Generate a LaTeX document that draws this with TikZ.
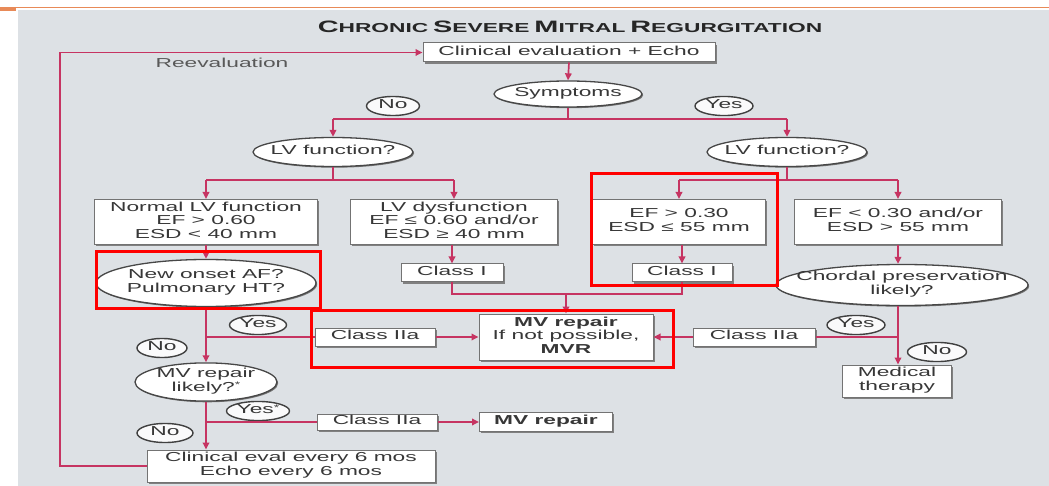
\documentclass[tikz,border=0pt]{standalone}
\usepackage{fontspec}
\setmainfont{Liberation Sans}[FakeStretch=1.75]
\usetikzlibrary{shapes.geometric,arrows.meta,shadows}
\definecolor{bg}{RGB}{221,225,229}
\definecolor{lc}{RGB}{198,52,98}
\definecolor{org}{RGB}{232,138,88}
\definecolor{tx}{RGB}{55,55,55}
\newcommand\tf{\fontsize{13}{13.5}\selectfont}
\newcommand\zt[1]{\makebox[0pt]{\begin{tabular}{@{}c@{}}#1\end{tabular}}}
\newcommand\tA[1]{{\fontsize{16.5}{16}\selectfont #1}}
\newcommand\tB[1]{{\fontsize{13}{16}\selectfont #1}}
\newcommand\supast{\raisebox{3.5pt}{\fontsize{8}{8}\selectfont *}}
\tikzset{
  ln/.style={draw=lc, line width=1.7pt},
  arr/.style={ln, -{Triangle[length=7pt,width=6.5pt]}},
  bx/.style={rectangle, draw=black!55, fill=white, line width=1pt,
    drop shadow={shadow xshift=1.6pt, shadow yshift=-1.6pt, fill=black!50, opacity=1},
    inner sep=0pt, font=\tf, text=tx},
  el/.style={ellipse, draw=black!72, fill=white, line width=1.3pt,
    drop shadow={shadow xshift=1.2pt, shadow yshift=-1.2pt, fill=black!55, opacity=1},
    inner sep=0pt, font=\tf, text=tx},
  lab/.style={ellipse, draw=black!75, fill=white!85!bg, line width=1.4pt, inner sep=0pt, font=\tf, text=tx},
  hl/.style={draw=red, line width=3pt}
}
\begin{document}
\begin{tikzpicture}[x=1pt,y=-1pt]
\useasboundingbox (0,0) rectangle (1049,486);
\fill[white] (0,0) rectangle (1049,486);
\fill[bg] (18,10) rectangle (1049,486);
\draw[org, line width=1.3pt] (0,7.5) -- (1049,7.5);
\fill[org] (0,7) rectangle (16,11.5);

% title
\node[text=black!85] (title) at (570,27) {\bfseries\tA{C}\tB{HRONIC} \tA{S}\tB{EVERE} \tA{M}\tB{ITRAL} \tA{R}\tB{EGURGITATION}};

% nodes
\node[bx, minimum width=292, minimum height=19] (eval) at (569,52.5) {\zt{Clinical evaluation + Echo}};
\node[font=\tf, text=black!65] (reev) at (222,63) {Reevaluation};
\node[el, minimum width=148, minimum height=26] (symp) at (568,94) {\zt{Symptoms}};
\node[lab, minimum width=53, minimum height=16] (no1) at (393,106) {\zt{No}};
\node[lab, minimum width=58, minimum height=16] (yes1) at (724,106) {\zt{Yes}};
\node[el, minimum width=160, minimum height=29] (lvL) at (333,152) {\zt{LV function?}};
\node[el, minimum width=160, minimum height=29] (lvR) at (787,152) {\zt{LV function?}};

\node[bx, minimum width=223, minimum height=45] (norm) at (206,222) {\zt{Normal LV function\\EF > 0.60\\ESD < 40 mm}};
\node[bx, minimum width=207, minimum height=45] (dysf) at (454,222) {\zt{LV dysfunction\\EF ≤ 0.60 and/or\\ESD ≥ 40 mm}};
\node[bx, minimum width=173, minimum height=45] (ef30) at (679,222) {\zt{EF > 0.30\\ESD ≤ 55 mm}};
\node[bx, minimum width=207, minimum height=45] (efl) at (898,222) {\zt{EF < 0.30 and/or\\ESD > 55 mm}};

\node[el, minimum width=220, minimum height=47] (naf) at (206,283) {\zt{New onset AF?\\Pulmonary HT?}};
\node[bx, minimum width=102, minimum height=18] (c1a) at (452,273) {\zt{Class I}};
\node[bx, minimum width=100, minimum height=18] (c1b) at (682,273) {\zt{Class I}};
\node[el, minimum width=252, minimum height=41] (chord) at (902,285) {\zt{Chordal preservation\\likely?}};

\node[bx, minimum width=174, minimum height=46] (mvr) at (566,337) {\zt{\textbf{MV repair}\\If not possible,\\\textbf{MVR}}};
\node[bx, minimum width=120, minimum height=18] (c2a) at (375,337) {\zt{Class IIa}};
\node[bx, minimum width=122, minimum height=18] (c2b) at (754,337) {\zt{Class IIa}};
\node[bx, minimum width=109, minimum height=32] (med) at (897,381) {\zt{Medical\\therapy}};

\node[lab, minimum width=57, minimum height=16] (yes2) at (258,325) {\zt{Yes}};
\node[lab, minimum width=50, minimum height=15] (no2) at (162,348) {\zt{No}};
\node[lab, minimum width=58, minimum height=16] (yes3) at (856,325) {\zt{Yes}};
\node[lab, minimum width=59, minimum height=18] (no3) at (937,352) {\zt{No}};

\node[el, minimum width=142, minimum height=33] (mvl) at (206,382) {\zt{MV repair\\likely?\supast}};
\node[lab, minimum width=63, minimum height=16] (yes4) at (258,411) {\zt{Yes\supast}};
\node[lab, minimum width=56, minimum height=16] (no4) at (165,433) {\zt{No}};
\node[bx, minimum width=120, minimum height=16] (c2c) at (377,422) {\zt{Class IIa}};
\node[bx, minimum width=133, minimum height=19] (mvrep) at (546,422) {\zt{\textbf{MV repair}}};
\node[bx, minimum width=288, minimum height=32] (clin) at (291,466) {\zt{Clinical eval every 6 mos\\Echo every 6 mos}};

% junction coordinates
\coordinate (loopB) at (60,466);
\coordinate (loopT) at (60,52.5);
\coordinate (j1) at (568,119);
\coordinate (j1L) at (333,119);
\coordinate (j1R) at (787,119);
\coordinate (j2) at (333,180);
\coordinate (j2L) at (206,180);
\coordinate (j2R) at (454,180);
\coordinate (j3) at (787,180);
\coordinate (j3L) at (679,180);
\coordinate (j3R) at (898,180);
\coordinate (j4L) at (452,294);
\coordinate (j4R) at (682,294);
\coordinate (j4) at (566,294);
\coordinate (j5) at (206,337);
\coordinate (j6) at (898,337);
\coordinate (j7) at (206,422);

% connectors
\draw[arr] (clin.west) -- (loopB) -- (loopT) -- (eval.west);
\draw[arr] (eval.south) -- (symp.north);
\draw[ln] (symp.south) -- (j1);
\draw[ln] (j1L) -- (j1R);
\draw[arr] (j1L) -- (lvL.north);
\draw[arr] (j1R) -- (lvR.north);
\draw[ln] (lvL.south) -- (j2);
\draw[ln] (j2L) -- (j2R);
\draw[arr] (j2L) -- (norm.north);
\draw[arr] (j2R) -- (dysf.north);
\draw[ln] (lvR.south) -- (j3);
\draw[ln] (j3L) -- (j3R);
\draw[arr] (j3L) -- (ef30.north);
\draw[arr] (j3R) -- (efl.north);
\draw[arr] (norm.south) -- (naf.north);
\draw[arr] (dysf.south -| c1a) -- (c1a.north);
\draw[arr] (ef30.south -| c1b) -- (c1b.north);
\draw[arr] (efl.south) -- (efl.south |- chord.north);
\draw[ln] (c1a.south) -- (j4L) -- (j4R) -- (c1b.south);
\draw[arr] (j4) -- (mvr.north);
\draw[arr] (naf.south) -- (mvl.north);
\draw[ln] (j5) -- (c2a.west);
\draw[arr] (c2a.east) -- (mvr.west);
\draw[arr] (chord.south -| j6) -- (med.north -| j6);
\draw[ln] (j6) -- (c2b.east);
\draw[arr] (c2b.west) -- (mvr.east);
\draw[arr] (mvl.south) -- (mvl.south |- clin.north);
\draw[ln] (j7) -- (c2c.west);
\draw[arr] (c2c.east) -- (mvrep.west);

% highlight rectangles
\draw[hl] (96,252) rectangle (320,308);
\draw[hl] (591,174) rectangle (777,286);
\draw[hl] (311,310) rectangle (673,367);
\end{tikzpicture}
\end{document}
